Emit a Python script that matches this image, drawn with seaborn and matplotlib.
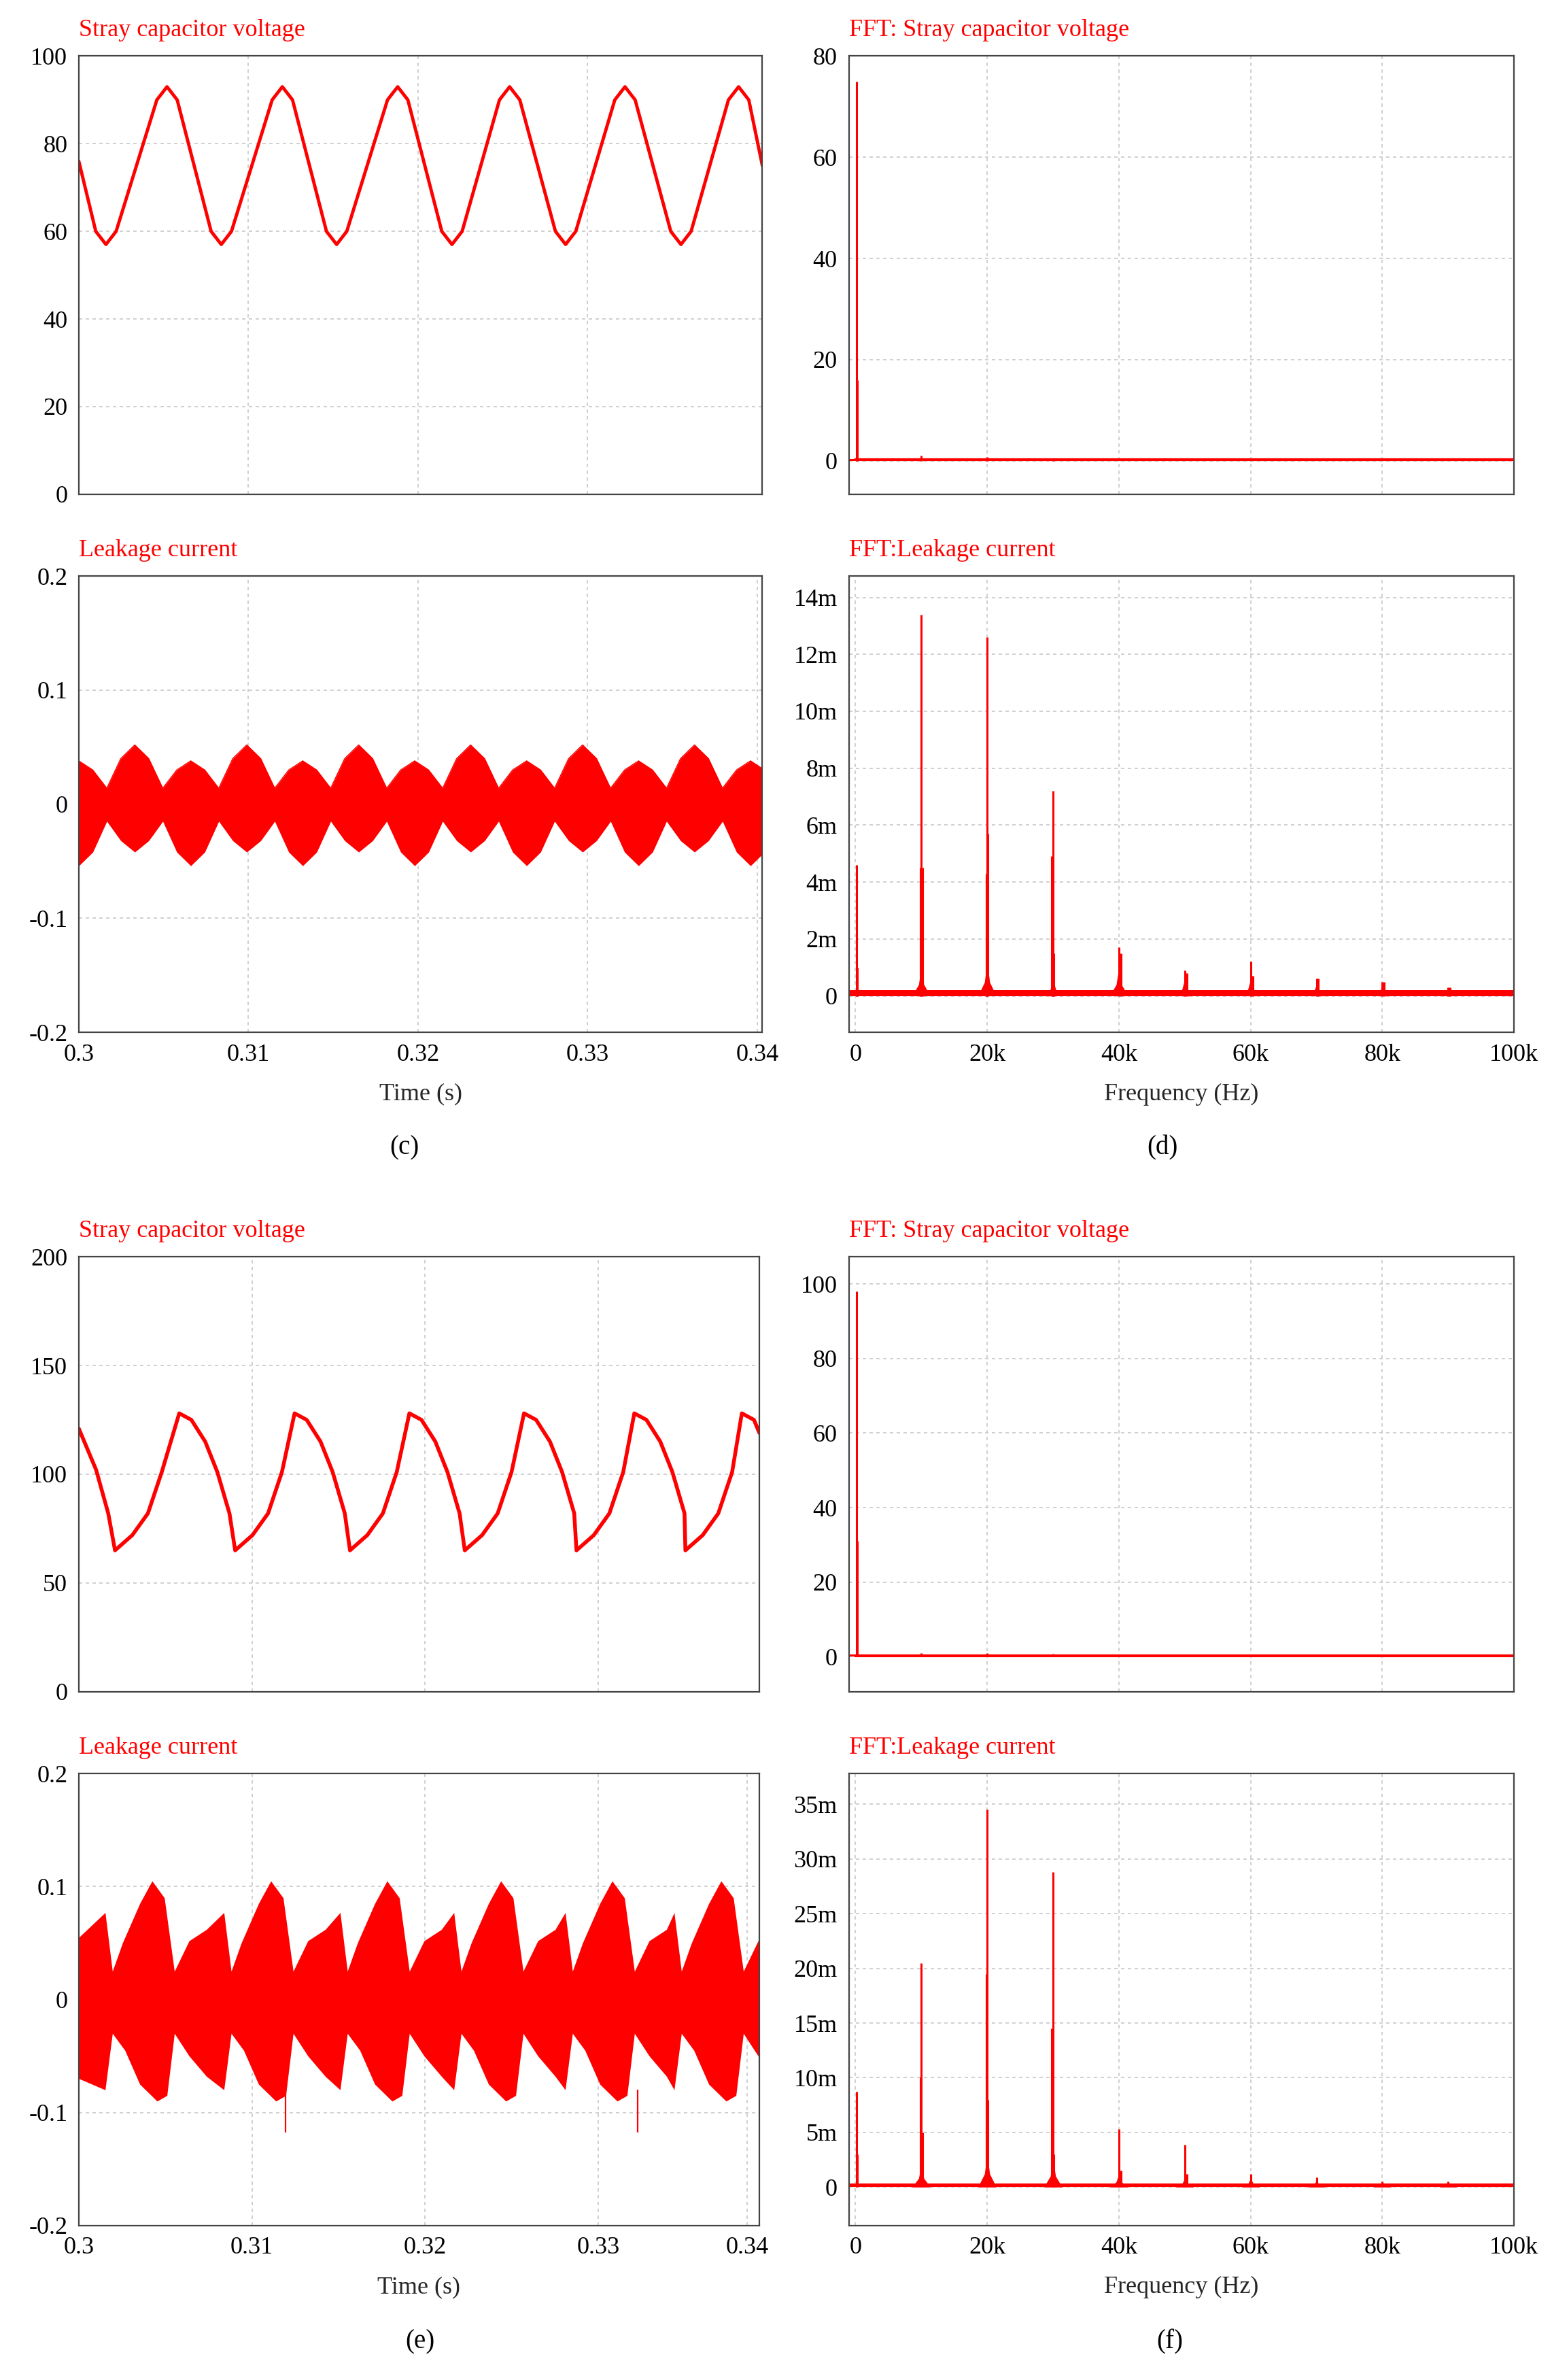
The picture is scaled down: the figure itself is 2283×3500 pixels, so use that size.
import numpy as np
import pandas as pd
import matplotlib
matplotlib.use("Agg")
import matplotlib.pyplot as plt
import seaborn as sns

sns.set_theme(style="white")
RED = "#ff0000"
FONT = "Liberation Serif"
plt.rcParams["font.family"] = FONT

# ---------------- data ----------------
# (c) stray capacitor voltage: trough / peak times (s) and values (V)
c_v_troughs = [0.3016, 0.3084, 0.3152, 0.3220, 0.3287, 0.3355]
c_v_peaks = [0.3052, 0.3120, 0.3188, 0.3254, 0.3322, 0.3389]
c_v_trough_val = 57
c_v_peak_val = 93
c_v_start = (0.3, 76)
c_v_end = (0.3403, 75)

# (c) leakage current envelope (one modulation period, 8 samples, repeats)
c_i_upper_cycle = [0.038, 0.030, 0.014, 0.040, 0.052, 0.040, 0.014, 0.030]
c_i_lower_cycle = [-0.054, -0.042, -0.015, -0.032, -0.042, -0.032, -0.015, -0.042]
c_i_step = 0.000825

# (e) stray capacitor voltage
e_v_troughs = [0.30209, 0.30903, 0.31566, 0.32229, 0.32874, 0.33503]
e_v_peaks = [0.30580, 0.31246, 0.31909, 0.32571, 0.33208, 0.33829]
e_v_rise_shape = [(0.0010, 72), (0.0019, 82), (0.0027, 101)]
e_v_fall_shape = [(0.0007, 125), (0.0015, 115), (0.0022, 101), (0.0029, 82)]
e_v_trough_val = 65
e_v_peak_val = 128
e_v_start = (0.3, 121)
e_v_end = (0.3393, 119)

# (e) leakage current envelope around each big peak time (offset s, value)
e_i_big_peaks = [0.30423, 0.31109, 0.31780, 0.32437, 0.33080, 0.33709]
e_i_upper_shape = [(-0.00271, 0.077), (-0.00229, 0.025), (-0.00171, 0.050),
                   (-0.00071, 0.085), (0.0, 0.105), (0.00071, 0.090),
                   (0.00129, 0.025), (0.00214, 0.052), (0.00314, 0.062)]
e_i_lower_shape = [(-0.00271, -0.080), (-0.00229, -0.030), (-0.00157, -0.045),
                   (-0.00071, -0.075), (0.00029, -0.090), (0.00086, -0.085),
                   (0.00129, -0.030), (0.00214, -0.050), (0.00314, -0.068)]
e_i_spike_t = [0.31195, 0.33226]
e_i_spike_v = [-0.118, -0.118]

# FFT spectra (frequency Hz, amplitude)
d_v_freq = [150, 300, 10000, 20000, 30000]
d_v_amp = [75, 16, 1.0, 0.8, 0.5]
d_i_freq = [150, 300, 9850, 10000, 10150, 19850, 20000, 20150, 29850, 30000, 30150,
            40000, 40300, 50000, 50300, 60000, 60300, 70000, 70300, 80000, 80300,
            90000, 90300, 100000]
d_i_amp = [4.6, 1.0, 4.5, 13.4, 4.5, 4.3, 12.6, 5.7, 4.9, 7.2, 1.5,
           1.7, 1.5, 0.9, 0.8, 1.2, 0.7, 0.6, 0.6, 0.5, 0.5,
           0.3, 0.3, 0.3]
d_i_hump_freq = [10000, 20000, 30000, 40000, 50000, 60000, 70000, 80000, 90000, 100000]
d_i_hump_amp = [1.0, 1.2, 0.6, 1.0, 0.6, 0.6, 0.4, 0.4, 0.3, 0.3]
f_v_freq = [150, 300, 10000, 20000, 30000]
f_v_amp = [98, 31, 1.0, 1.0, 0.8]
f_i_freq = [150, 300, 9850, 10000, 10150, 19850, 20000, 20150, 29850, 30000, 30150,
            40000, 40300, 50000, 50300, 60000, 70000, 80000, 90000, 100000]
f_i_amp = [8.7, 3.0, 10.0, 20.5, 5.0, 19.5, 34.5, 8.0, 14.5, 28.8, 3.0,
           5.3, 1.5, 3.9, 1.2, 1.2, 0.9, 0.5, 0.5, 0.4]
f_i_hump_freq = [10000, 20000, 30000, 40000, 50000, 60000, 70000, 80000, 90000]
f_i_hump_amp = [2.0, 3.0, 2.5, 1.2, 0.8, 0.8, 0.6, 0.5, 0.5]

# ---------------- figure ----------------
fig = plt.figure(figsize=(22.83, 35.0), dpi=100)
H = 1570.0
W = 1024.0


def mk(x0, x1, y0, y1):
    return fig.add_axes([x0 / W, 1 - y1 / H, (x1 - x0) / W, (y1 - y0) / H])


TS = 26


def style(ax, title):
    ax.grid(True, color="#c8c8c8", linestyle=(0, (3, 3)), linewidth=1.2)
    for s in ax.spines.values():
        s.set_color("#444444")
        s.set_linewidth(1.6)
    ax.tick_params(axis="both", length=0, labelsize=TS, pad=12, colors="black")
    ax.set_xlabel("")
    ax.set_ylabel("")
    pos = ax.get_position()
    fig.text(pos.x0, pos.y1 + 0.006, title, color=RED, fontsize=TS, ha="left", va="bottom")


# (c) voltage
ax = mk(52, 503, 37, 326)
t = [c_v_start[0]]
v = [c_v_start[1]]
for tr, pk in zip(c_v_troughs, c_v_peaks):
    t += [tr - 0.0006, tr, tr + 0.0006, pk - 0.0006, pk, pk + 0.0006]
    v += [c_v_trough_val + 3, c_v_trough_val, c_v_trough_val + 3,
          c_v_peak_val - 3, c_v_peak_val, c_v_peak_val - 3]
t.append(c_v_end[0]); v.append(c_v_end[1])
sns.lineplot(x=t, y=v, ax=ax, color=RED, linewidth=3.5)
ax.set_xlim(0.3, 0.3403); ax.set_ylim(0, 100)
ax.set_yticks(range(0, 101, 20)); ax.set_xticks([0.31, 0.32, 0.33]); ax.set_xticklabels([])
style(ax, "Stray capacitor voltage")

# (c) leakage
ax = mk(52, 503, 380, 681)
n = 50
tt = [0.3 + i * c_i_step for i in range(n)]
up = [c_i_upper_cycle[i % 8] for i in range(n)]
lo = [c_i_lower_cycle[i % 8] for i in range(n)]
ax.fill_between(tt, lo, up, color=RED, linewidth=0)
sns.lineplot(x=tt, y=up, ax=ax, color=RED, linewidth=1)
ax.set_xlim(0.3, 0.3403); ax.set_ylim(-0.2, 0.2)
ax.set_yticks([-0.2, -0.1, 0, 0.1, 0.2]); ax.set_yticklabels(["-0.2", "-0.1", "0", "0.1", "0.2"])
ax.set_xticks([0.3, 0.31, 0.32, 0.33, 0.34]); ax.set_xticklabels(["0.3", "0.31", "0.32", "0.33", "0.34"])
style(ax, "Leakage current")
ax.set_xlabel("Time (s)", fontsize=TS, labelpad=18)


def fft_panel(ax, freq, amp, ylim, yticks, ylabels, base, hf=None, ha=None):
    ax.vlines(freq, 0, amp, color=RED, linewidth=2.2)
    if hf is not None:
        for h, a in zip(hf, ha):
            ax.fill_between([h - 1400, h - 400, h, h + 400, h + 1400], 0,
                            [0, a * 0.4, a, a * 0.4, 0], color=RED, linewidth=0)
    ax.fill_between([-1000, 100000], 0, base, color=RED, linewidth=0)
    sns.lineplot(x=[0, 100000], y=[base / 2, base / 2], ax=ax, color=RED, linewidth=3)
    ax.set_xlim(-1000, 100000); ax.set_ylim(*ylim)
    ax.set_yticks(yticks); ax.set_yticklabels(ylabels)


# (d) FFT voltage
ax = mk(560, 999, 37, 326)
fft_panel(ax, d_v_freq, d_v_amp, (-6.6, 80), [0, 20, 40, 60, 80], ["0", "20", "40", "60", "80"], 0.4)
ax.set_xticks([20000, 40000, 60000, 80000]); ax.set_xticklabels([])
style(ax, "FFT: Stray capacitor voltage")

# (d) FFT leakage
ax = mk(560, 999, 380, 681)
fft_panel(ax, d_i_freq, d_i_amp, (-1.28, 14.75), list(range(0, 15, 2)),
          ["0"] + [f"{k}m" for k in range(2, 15, 2)], 0.2, d_i_hump_freq, d_i_hump_amp)
ax.set_xticks([0, 20000, 40000, 60000, 80000, 100000])
ax.set_xticklabels(["0", "20k", "40k", "60k", "80k", "100k"])
style(ax, "FFT:Leakage current")
ax.set_xlabel("Frequency (Hz)", fontsize=TS, labelpad=18)

# (e) voltage
ax = mk(52, 501, 829, 1116)
t = [e_v_start[0]]; v = [e_v_start[1]]
for k, tr in enumerate(e_v_troughs):
    t.append(tr); v.append(e_v_trough_val)
    for dt, val in e_v_rise_shape:
        t.append(tr + dt); v.append(val)
    pk = e_v_peaks[k]
    t.append(pk); v.append(e_v_peak_val)
    for dt, val in e_v_fall_shape:
        if k + 1 < len(e_v_troughs) and pk + dt >= e_v_troughs[k + 1]:
            continue
        t.append(pk + dt); v.append(val)
t = [e_v_start[0], 0.3010, 0.3017] + t[1:]
v = [e_v_start[1], 102, 82] + v[1:]
t = [x for x in t if x <= e_v_end[0]]; v = v[:len(t)]
t.append(e_v_end[0]); v.append(e_v_end[1])
sns.lineplot(x=t, y=v, ax=ax, color=RED, linewidth=4, sort=False)
ax.set_xlim(0.3, 0.3393); ax.set_ylim(0, 200)
ax.set_yticks(range(0, 201, 50)); ax.set_xticks([0.31, 0.32, 0.33]); ax.set_xticklabels([])
style(ax, "Stray capacitor voltage")

# (e) leakage
ax = mk(52, 501, 1170, 1468)
tu = [0.3]; vu = [0.055]; tl = [0.3]; vl = [-0.07]
for b in e_i_big_peaks:
    for dt, val in e_i_upper_shape:
        tu.append(b + dt); vu.append(val)
    for dt, val in e_i_lower_shape:
        tl.append(b + dt); vl.append(val)
tu.append(0.3393); vu.append(0.055); tl.append(0.3393); vl.append(-0.068)
tgrid = sorted(set(tu + tl))
tgrid = [x for x in tgrid if 0.3 <= x <= 0.3393]
uu = np.interp(tgrid, tu, vu); ll = np.interp(tgrid, tl, vl)
ax.fill_between(tgrid, ll, uu, color=RED, linewidth=0)
ax.vlines(e_i_spike_t, -0.08, e_i_spike_v, color=RED, linewidth=1.6)
ax.set_xlim(0.3, 0.3393); ax.set_ylim(-0.2, 0.2)
ax.set_yticks([-0.2, -0.1, 0, 0.1, 0.2]); ax.set_yticklabels(["-0.2", "-0.1", "0", "0.1", "0.2"])
ax.set_xticks([0.3, 0.31, 0.32, 0.33, 0.3386]); ax.set_xticklabels(["0.3", "0.31", "0.32", "0.33", "0.34"])
style(ax, "Leakage current")
ax.set_xlabel("Time (s)", fontsize=TS, labelpad=18)

# (f) FFT voltage
ax = mk(560, 999, 829, 1116)
fft_panel(ax, f_v_freq, f_v_amp, (-9.4, 107.3), [0, 20, 40, 60, 80, 100],
          ["0", "20", "40", "60", "80", "100"], 0.6)
ax.set_xticks([20000, 40000, 60000, 80000]); ax.set_xticklabels([])
style(ax, "FFT: Stray capacitor voltage")

# (f) FFT leakage
ax = mk(560, 999, 1170, 1468)
fft_panel(ax, f_i_freq, f_i_amp, (-3.5, 37.8), list(range(0, 36, 5)),
          ["0"] + [f"{k}m" for k in range(5, 36, 5)], 0.3, f_i_hump_freq, f_i_hump_amp)
ax.set_xticks([0, 20000, 40000, 60000, 80000, 100000])
ax.set_xticklabels(["0", "20k", "40k", "60k", "80k", "100k"])
style(ax, "FFT:Leakage current")
ax.set_xlabel("Frequency (Hz)", fontsize=TS, labelpad=18)

# panel letters
for txt, x, y in [("(c)", 267, 757), ("(d)", 767, 757), ("(e)", 277, 1545), ("(f)", 772, 1545)]:
    fig.text(x / W, 1 - y / H, txt, fontsize=TS + 2, ha="center", va="center", color="black")

fig.savefig("out.png", dpi=100, facecolor="white")
